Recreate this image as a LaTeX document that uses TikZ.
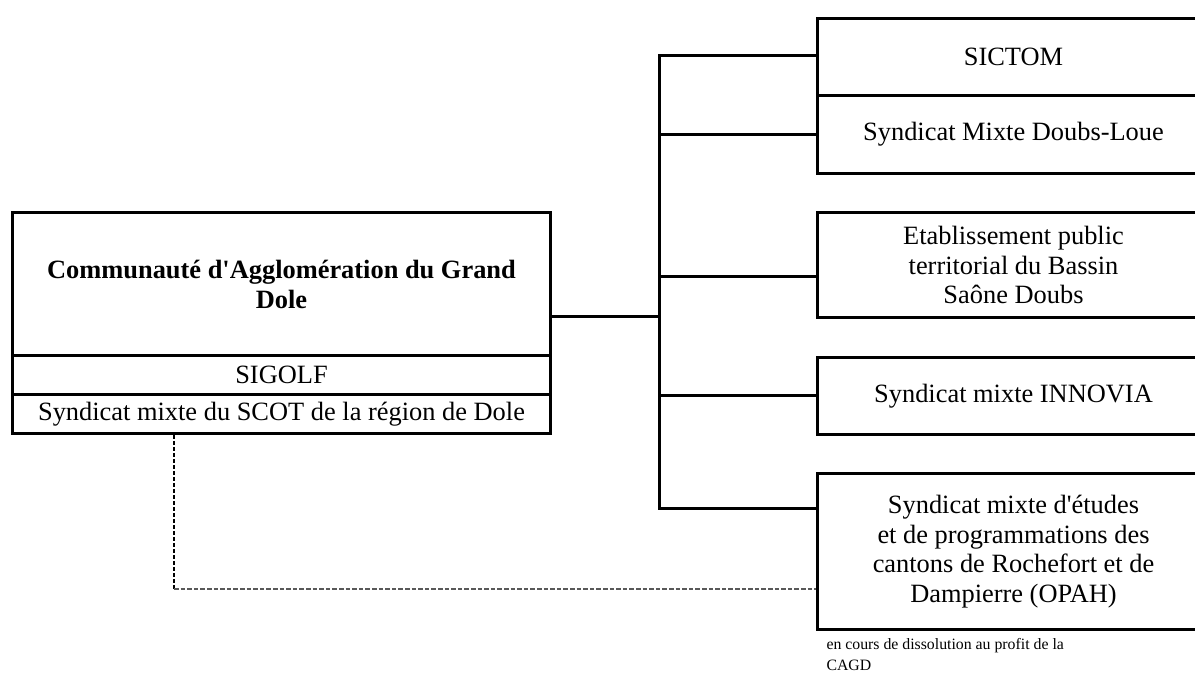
\documentclass[tikz,border=0pt]{standalone}
\usepackage{fontspec}
\setmainfont{Liberation Serif}
\begin{document}
\begin{tikzpicture}[x=0.5pt,y=-0.5pt,line width=1.5pt,
  font=\fontsize{13.2}{14.75}\selectfont,
  box/.style={draw=black,anchor=north west,inner sep=0pt,align=center},
  rbox/.style={box,minimum width=196pt},
  lbox/.style={box,minimum width=269pt,minimum height=19.5pt}]
\useasboundingbox (0,0) rectangle (1195,673);
% left block
\node[lbox,minimum height=71.5pt,font=\fontsize{13.2}{15}\selectfont\bfseries] (cad) at (11,211) {Communauté d\textquotesingle Agglomération du Grand\\Dole};
\node[lbox] (sigolf) at (11,354) {SIGOLF};
\node[lbox] (scot) at (11,393) {Syndicat mixte du SCOT de la région de Dole};
% right column
\node[rbox,minimum height=38.5pt] (sictom) at (816,17) {SICTOM};
\node[rbox,minimum height=39pt] (doubs) at (816,94) {Syndicat Mixte Doubs-Loue};
\node[rbox,minimum height=52.5pt] (eptb) at (816,211) {Etablissement public\\territorial du Bassin\\Saône Doubs};
\node[rbox,minimum height=38.5pt] (innovia) at (816,356) {Syndicat mixte INNOVIA};
\node[rbox,minimum height=78pt] (opah) at (816,472) {Syndicat mixte d\textquotesingle études\\et de programmations des\\cantons de Rochefort et de\\Dampierre (OPAH)};
\node[anchor=north west,inner sep=0pt,align=left,font=\fontsize{7.9}{10.5}\selectfont] (note) at (825,637) {en cours de dissolution au profit de la\\CAGD};
% trunk
\coordinate (t1) at (659,56);
\coordinate (t5) at (659,509);
\coordinate (j0) at (659,317);
\coordinate (j3) at (659,277);
\draw (t1 -| sictom.west) -- (t1) -- (t5) -- (t5 -| opah.west);
\draw (j0 -| cad.east) -- (j0);
\draw (doubs.west -| t1) -- (doubs.west);
\draw (j3) -- (j3 -| eptb.west);
\draw (innovia.west -| t1) -- (innovia.west);
% dashed link
\coordinate (dc) at (174,589);
\draw[line width=1.4pt,dash pattern=on 2pt off 1pt] (scot.south -| dc) -- (dc);
\draw[line width=0.85pt,black!65,dash pattern=on 2.3pt off 1pt] (dc) -- (dc -| opah.west);
\end{tikzpicture}
\end{document}
